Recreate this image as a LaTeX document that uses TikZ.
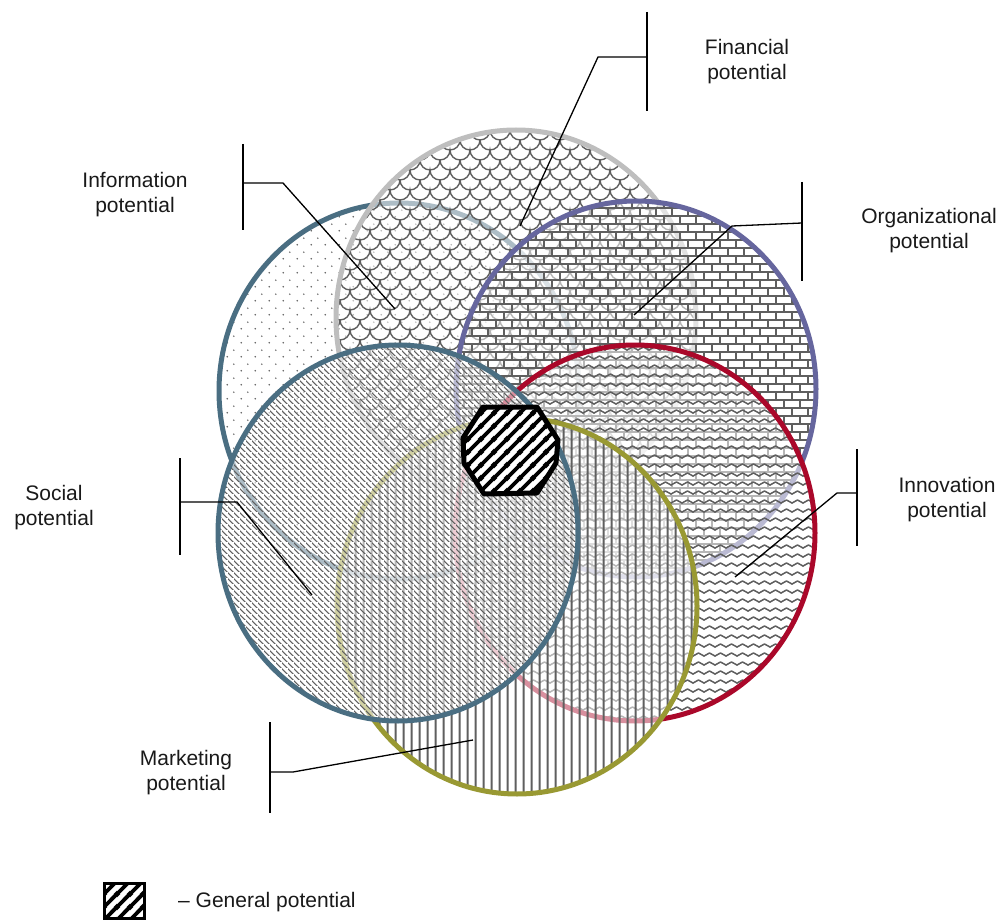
\documentclass[tikz,border=0pt]{standalone}
\usepackage{fontspec}
\setmainfont{Liberation Sans}
\usetikzlibrary{patterns}
\definecolor{cInfo}{RGB}{74,110,130}
\definecolor{cFin}{RGB}{190,190,190}
\definecolor{cOrg}{RGB}{102,102,158}
\definecolor{cInno}{RGB}{170,8,42}
\definecolor{cMkt}{RGB}{153,153,51}
\definecolor{patgray}{RGB}{95,95,95}

\pgfdeclarepatternformonly{infodots}{\pgfqpoint{0pt}{0pt}}{\pgfqpoint{14pt}{14pt}}{\pgfqpoint{14pt}{14pt}}{%
  \pgfpathcircle{\pgfqpoint{3.5pt}{3.5pt}}{0.9pt}%
  \pgfpathcircle{\pgfqpoint{10.5pt}{10.5pt}}{0.9pt}%
  \pgfusepath{fill}}
\pgfdeclarepatternformonly{finscales}{\pgfqpoint{-1pt}{-1pt}}{\pgfqpoint{21pt}{21pt}}{\pgfqpoint{20pt}{20pt}}{%
  \pgfsetlinewidth{1.4pt}%
  \pgfpathmoveto{\pgfqpoint{0pt}{20pt}}%
  \pgfpatharc{180}{360}{10pt}%
  \pgfpathmoveto{\pgfqpoint{0pt}{0pt}}%
  \pgfpatharc{270}{360}{10pt}%
  \pgfpatharc{180}{270}{10pt}%
  \pgfusepath{stroke}}
\pgfdeclarepatternformonly{orgbricks}{\pgfqpoint{-1pt}{-1pt}}{\pgfqpoint{17pt}{17pt}}{\pgfqpoint{16pt}{16pt}}{%
  \pgfsetlinewidth{1.7pt}%
  \pgfpathmoveto{\pgfqpoint{-1pt}{0pt}}\pgfpathlineto{\pgfqpoint{17pt}{0pt}}%
  \pgfpathmoveto{\pgfqpoint{-1pt}{8pt}}\pgfpathlineto{\pgfqpoint{17pt}{8pt}}%
  \pgfpathmoveto{\pgfqpoint{0pt}{0pt}}\pgfpathlineto{\pgfqpoint{0pt}{8pt}}%
  \pgfpathmoveto{\pgfqpoint{8pt}{8pt}}\pgfpathlineto{\pgfqpoint{8pt}{16pt}}%
  \pgfusepath{stroke}}
\pgfdeclarepatternformonly{innowaves}{\pgfqpoint{-1pt}{-1pt}}{\pgfqpoint{12pt}{10pt}}{\pgfqpoint{11pt}{9pt}}{%
  \pgfsetlinewidth{1.5pt}%
  \pgfsetroundjoin
  \pgfpathmoveto{\pgfqpoint{-0.5pt}{2.7pt}}%
  \pgfpathlineto{\pgfqpoint{5.5pt}{6pt}}%
  \pgfpathlineto{\pgfqpoint{11.5pt}{2.7pt}}%
  \pgfusepath{stroke}}
\pgfdeclarepatternformonly{socdiag}{\pgfqpoint{0pt}{0pt}}{\pgfqpoint{6pt}{6pt}}{\pgfqpoint{6pt}{6pt}}{%
  \pgfsetlinewidth{1.1pt}%
  \pgfpathmoveto{\pgfqpoint{-1pt}{7pt}}\pgfpathlineto{\pgfqpoint{7pt}{-1pt}}%
  \pgfusepath{stroke}}
\pgfdeclarepatternformonly{mktvert}{\pgfqpoint{0pt}{0pt}}{\pgfqpoint{8pt}{8pt}}{\pgfqpoint{8pt}{8pt}}{%
  \pgfsetlinewidth{2.2pt}%
  \pgfpathmoveto{\pgfqpoint{4pt}{-1pt}}\pgfpathlineto{\pgfqpoint{4pt}{9pt}}%
  \pgfusepath{stroke}}
\pgfdeclarepatternformonly{hexstripes}{\pgfqpoint{0pt}{0pt}}{\pgfqpoint{13pt}{13pt}}{\pgfqpoint{13pt}{13pt}}{%
  \pgfsetlinewidth{4pt}%
  \pgfpathmoveto{\pgfqpoint{-3pt}{-3pt}}\pgfpathlineto{\pgfqpoint{16pt}{16pt}}%
  \pgfpathmoveto{\pgfqpoint{-3pt}{10pt}}\pgfpathlineto{\pgfqpoint{3pt}{16pt}}%
  \pgfpathmoveto{\pgfqpoint{10pt}{-3pt}}\pgfpathlineto{\pgfqpoint{16pt}{3pt}}%
  \pgfusepath{stroke}}

\begin{document}
\begin{tikzpicture}[x=1pt,y=-1pt,
  ring/.style={line width=5pt},
  veil/.style={fill=white, fill opacity=0.55},
  lab/.style={font=\fontsize{21}{25}\selectfont, align=center, inner sep=0pt, text=black!90},
  bar/.style={line width=1.8pt},
  lead/.style={line width=1.3pt},
  er/.style={x radius=180pt, y radius=188pt}]
\useasboundingbox (0,0) rectangle (1002,920);

% Information
\fill[pattern=infodots, pattern color=patgray] (399,391) ellipse [er];
\draw[ring, cInfo] (399,391) ellipse [er];
% Financial
\fill[veil] (516,318) ellipse [er];
\fill[pattern=finscales, pattern color=patgray] (516,318) ellipse [er];
\draw[ring, cFin] (516,318) ellipse [er];
% Organizational
\fill[veil] (636,389) ellipse [er];
\fill[pattern=orgbricks, pattern color=patgray] (636,389) ellipse [er];
\draw[ring, cOrg] (636,389) ellipse [er];
% Innovation
\fill[veil] (635,533) ellipse [er];
\fill[pattern=innowaves, pattern color=patgray] (635,533) ellipse [er];
\draw[ring, cInno] (635,533) ellipse [er];
% Marketing
\fill[veil] (517,606) ellipse [er];
\fill[pattern=mktvert, pattern color=patgray] (517,606) ellipse [er];
\draw[ring, cMkt] (517,606) ellipse [er];
% Social
\fill[veil] (398,533) ellipse [er];
\fill[pattern=socdiag, pattern color=patgray] (398,533) ellipse [er];
\draw[ring, cInfo] (398,533) ellipse [er];

% General potential
\path[fill=white] (483,407) -- (537,407) -- (558,440) -- (556,463) -- (537,493) -- (484,494) -- (464,463) -- (463,438) -- cycle;
\path[pattern=hexstripes] (483,407) -- (537,407) -- (558,440) -- (556,463) -- (537,493) -- (484,494) -- (464,463) -- (463,438) -- cycle;
\draw[line width=5pt, line join=round] (483,407) -- (537,407) -- (558,440) -- (556,463) -- (537,493) -- (484,494) -- (464,463) -- (463,438) -- cycle;

% labels
\node[lab] (fin) at (747,62) {Financial\\potential};
\node[lab] (inf) at (135,195) {Information\\potential};
\node[lab] (org) at (929,231) {Organizational\\potential};
\node[lab] (inn) at (947,500) {Innovation\\potential};
\node[lab] (soc) at (54,508) {Social\\potential};
\node[lab] (mkt) at (186,773) {Marketing\\potential};

% callouts
\coordinate (finT) at (647,12); \coordinate (finB) at (647,111);
\coordinate (finJ) at (647,57); \coordinate (finK) at (598,57); \coordinate (finE) at (520,226);
\draw[bar] (finT) -- (finB);
\draw[lead] (finJ) -- (finK) -- (finE);

\coordinate (infT) at (243,144); \coordinate (infB) at (243,230);
\coordinate (infJ) at (243,183); \coordinate (infK) at (283,183); \coordinate (infE) at (395,309);
\draw[bar] (infT) -- (infB);
\draw[lead] (infJ) -- (infK) -- (infE);

\coordinate (orgT) at (802,182); \coordinate (orgB) at (802,281);
\coordinate (orgJ) at (802,223); \coordinate (orgK) at (732,226); \coordinate (orgE) at (634,315);
\draw[bar] (orgT) -- (orgB);
\draw[lead] (orgJ) -- (orgK) -- (orgE);

\coordinate (innT) at (857,449); \coordinate (innB) at (857,546);
\coordinate (innJ) at (857,493); \coordinate (innK) at (837,493); \coordinate (innE) at (735,577);
\draw[bar] (innT) -- (innB);
\draw[lead] (innJ) -- (innK) -- (innE);

\coordinate (socT) at (180,458); \coordinate (socB) at (180,555);
\coordinate (socJ) at (180,502); \coordinate (socK) at (237,502); \coordinate (socE) at (312,595);
\draw[bar] (socT) -- (socB);
\draw[lead] (socJ) -- (socK) -- (socE);

\coordinate (mktT) at (270,722); \coordinate (mktB) at (270,813);
\coordinate (mktJ) at (270,772); \coordinate (mktK) at (293,772); \coordinate (mktE) at (473,740);
\draw[bar] (mktT) -- (mktB);
\draw[lead] (mktJ) -- (mktK) -- (mktE);

% legend
\path[fill=white] (104,883) rectangle (144,918);
\path[pattern=hexstripes] (104,883) rectangle (144,918);
\draw[line width=3pt] (104,883) rectangle (144,918);
\node[lab, anchor=west] (leg) at (178,902) {\textendash\ General potential};
\end{tikzpicture}
\end{document}
